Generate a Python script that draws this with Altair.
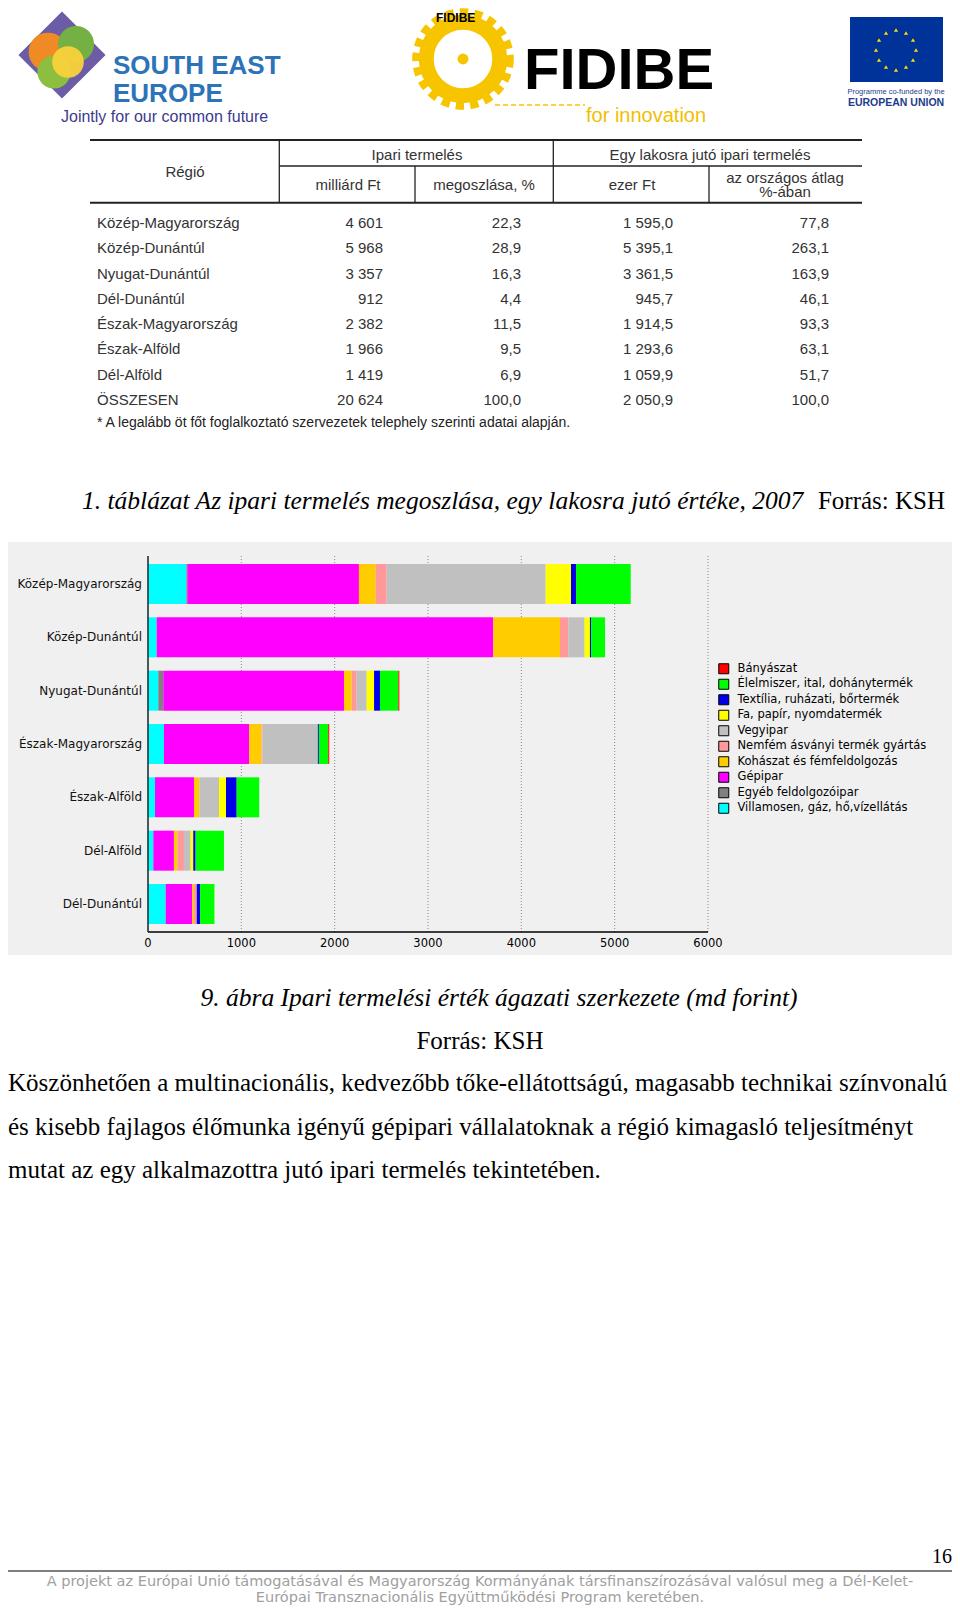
import altair as alt
import pandas as pd

# ---------------- data: table (KSH, 2007) ----------------
tbl_regions = ['Közép-Magyarország', 'Közép-Dunántúl', 'Nyugat-Dunántúl', 'Dél-Dunántúl',
               'Észak-Magyarország', 'Észak-Alföld', 'Dél-Alföld', 'ÖSSZESEN']
tbl_md_ft = [4601, 5968, 3357, 912, 2382, 1966, 1419, 20624]
tbl_share = [22.3, 28.9, 16.3, 4.4, 11.5, 9.5, 6.9, 100.0]
tbl_ezer_ft = [1595.0, 5395.1, 3361.5, 945.7, 1914.5, 1293.6, 1059.9, 2050.9]
tbl_avg_pct = [77.8, 263.1, 163.9, 46.1, 93.3, 63.1, 51.7, 100.0]

# ---------------- data: stacked bar chart (md forint) ----------------
chart_regions = ['Közép-Magyarország', 'Közép-Dunántúl', 'Nyugat-Dunántúl',
                 'Észak-Magyarország', 'Észak-Alföld', 'Dél-Alföld', 'Dél-Dunántúl']
legend_sectors = ['Bányászat', 'Élelmiszer, ital, dohánytermék', 'Textília, ruházati, bőrtermék',
                  'Fa, papír, nyomdatermék', 'Vegyipar', 'Nemfém ásványi termék gyártás',
                  'Kohászat és fémfeldolgozás', 'Gépipar', 'Egyéb feldolgozóipar',
                  'Villamosen, gáz, hő,vízellátás']
sector_colors = ['#FF0000', '#00FF00', '#0000E6', '#FFFF00', '#C0C0C0', '#FF9999',
                 '#FFCC00', '#FF00FF', '#808080', '#00FFFF']

villamosenergia = [411, 93, 110, 171, 75, 57, 189]
egyeb = [10, 0, 54, 0, 0, 0, 0]
gepipar = [1839, 3607, 1936, 914, 418, 221, 286]
kohaszat = [179, 714, 82, 132, 57, 36, 18]
nemfem = [118, 89, 54, 10, 0, 71, 29]
vegyipar = [1704, 175, 107, 593, 211, 71, 0]
fa_papir = [271, 57, 79, 0, 75, 29, 0]
textilia = [54, 12, 64, 11, 114, 25, 36]
elelmiszer = [586, 150, 196, 100, 242, 304, 154]
banyaszat = [0, 0, 11, 11, 0, 0, 0]

axis_ticks = [0, 1000, 2000, 3000, 4000, 5000, 6000]

# stack order from left to right
stack_series = [
    ('Villamosen, gáz, hő,vízellátás', villamosenergia),
    ('Egyéb feldolgozóipar', egyeb),
    ('Gépipar', gepipar),
    ('Kohászat és fémfeldolgozás', kohaszat),
    ('Nemfém ásványi termék gyártás', nemfem),
    ('Vegyipar', vegyipar),
    ('Fa, papír, nyomdatermék', fa_papir),
    ('Textília, ruházati, bőrtermék', textilia),
    ('Élelmiszer, ital, dohánytermék', elelmiszer),
    ('Bányászat', banyaszat),
]
rows = []
for k, (name, vals) in enumerate(stack_series):
    for r, v in zip(chart_regions, vals):
        rows.append({'region': r, 'sector': name, 'value': v, 'ord': k})
bar_df = pd.DataFrame(rows)


def hu_num(v, dec):
    s = f"{v:,.{dec}f}"
    return s.replace(',', ' ').replace('.', ',')


tbl_df = pd.DataFrame({
    'row': tbl_regions,
    'c1': [hu_num(v, 0) for v in tbl_md_ft],
    'c2': [hu_num(v, 1) for v in tbl_share],
    'c3': [hu_num(v, 1) for v in tbl_ezer_ft],
    'c4': [hu_num(v, 1) for v in tbl_avg_pct],
})

ONE = alt.Data(values=[{'t': ''}])
SANS = 'Liberation Sans'
SERIF = 'Liberation Serif'
PIX = 'DejaVu Sans'


def label(text, x, y, size=12, font=SANS, color='black', align='left',
          style='normal', weight='normal', baseline='middle'):
    return alt.Chart(alt.Data(values=[{'t': text}])).mark_text(
        align=align, baseline=baseline, font=font, fontSize=size, color=color,
        fontStyle=style, fontWeight=weight
    ).encode(x=alt.value(x), y=alt.value(y), text='t:N')


def hline(x1, x2, y, color='black', width=1, dash=None):
    kw = dict(color=color, strokeWidth=width)
    if dash:
        kw['strokeDash'] = dash
    return alt.Chart(ONE).mark_rule(**kw).encode(
        x=alt.value(x1), x2=alt.value(x2), y=alt.value(y))


def vline(x, y1, y2, color='black', width=1):
    return alt.Chart(ONE).mark_rule(color=color, strokeWidth=width).encode(
        x=alt.value(x), y=alt.value(y1), y2=alt.value(y2))


def box(x1, x2, y1, y2, color):
    return alt.Chart(ONE).mark_rect(color=color).encode(
        x=alt.value(x1), x2=alt.value(x2), y=alt.value(y1), y2=alt.value(y2))


def dot(x, y, shape, size, color, filled=True, sw=1, dash=None, opacity=1.0):
    kw = dict(shape=shape, size=size, color=color, filled=filled,
              strokeWidth=sw, opacity=opacity)
    if dash:
        kw['strokeDash'] = dash
    return alt.Chart(ONE).mark_point(**kw).encode(x=alt.value(x), y=alt.value(y))


layers = []

# ---------------- header logos ----------------
layers += [
    dot(54, 47, 'diamond', 7600, '#6B5CA5'),
    dot(40, 44, 'circle', 1500, '#F08A24'),
    dot(68, 36, 'circle', 1300, '#74B043'),
    dot(46, 64, 'circle', 1100, '#8CBF3F'),
    dot(60, 54, 'circle', 1000, '#F9D23A', opacity=0.95),
    label('SOUTH EAST', 105, 58, 26, SANS, '#2C73B8', weight='bold'),
    label('EUROPE', 105, 86, 26, SANS, '#2C73B8', weight='bold'),
    label('Jointly for our common future', 53, 109, 16, SANS, '#3B3A8C'),
    dot(455, 51, 'circle', 8200, '#F7C500', filled=False, sw=11, dash=[8, 6]),
    dot(455, 51, 'circle', 5400, '#F7C500', filled=False, sw=15),
    dot(455, 51, 'circle', 120, '#F7C500'),
    label('FIDIBE', 428, 10, 12, SANS, 'black', weight='bold'),
    label('FIDIBE', 516, 64, 58, SANS, 'black', weight='bold'),
    hline(487, 577, 97, '#F7C500', 1.5, [5, 3]),
    label('for innovation', 578, 108, 20, SANS, '#F2BE00'),
    box(842, 935, 9, 74, '#003399'),
]
eu_star_pos = [(888, 22), (898, 25), (905, 32), (908, 42), (905, 52), (898, 59),
               (888, 62), (878, 59), (871, 52), (868, 42), (871, 32), (878, 25)]
for sx, sy in eu_star_pos:
    layers.append(dot(sx, sy, 'triangle-up', 18, '#FFDD00'))
layers += [
    label('Programme co-funded by the', 888, 84, 7.5, SANS, '#1D3C8C', align='center'),
    label('EUROPEAN UNION', 888, 95, 10.5, SANS, '#1D3C8C', align='center', weight='bold'),
]

# ---------------- table ----------------
TC = '#333333'
layers += [
    hline(82, 854, 132, '#222', 2),
    hline(271, 854, 158, '#222', 1.3),
    hline(82, 854, 194.7, '#222', 2),
    vline(271.3, 132, 194.7, '#222', 1.3),
    vline(545.3, 132, 194.7, '#222', 1.3),
    vline(407, 158, 194.7, '#222', 1.3),
    vline(701, 158, 194.7, '#222', 1.3),
    label('Régió', 177, 164, 15, SANS, TC, align='center'),
    label('Ipari termelés', 409, 147, 15, SANS, TC, align='center'),
    label('Egy lakosra jutó ipari termelés', 702, 147, 15, SANS, TC, align='center'),
    label('milliárd Ft', 340, 177, 15, SANS, TC, align='center'),
    label('megoszlása, %', 476, 177, 15, SANS, TC, align='center'),
    label('ezer Ft', 624, 177, 15, SANS, TC, align='center'),
    label('az országos átlag', 777, 170, 15, SANS, TC, align='center'),
    label('%-ában', 777, 184, 15, SANS, TC, align='center'),
    label('* A legalább öt főt foglalkoztató szervezetek telephely szerinti adatai alapján.',
          89, 415, 14, SANS, '#222'),
]
row_scale = alt.Scale(type='point', domain=tbl_regions, range=[215, 392], padding=0)
tbl_base = alt.Chart(tbl_df)
tbl_cols = [('row', 89, 'left'), ('c1', 375, 'right'), ('c2', 513, 'right'),
            ('c3', 665, 'right'), ('c4', 821, 'right')]
tbl_layers = []
for field, xpos, al in tbl_cols:
    tbl_layers.append(
        tbl_base.mark_text(align=al, baseline='middle', font=SANS, fontSize=15, color=TC)
        .encode(y=alt.Y('row:N', scale=row_scale, axis=None),
                x=alt.value(xpos), text=f'{field}:N'))
table_group = alt.layer(*tbl_layers)

layers.append(label('1.   táblázat Az ipari termelés megoszlása, egy lakosra  jutó értéke, 2007',
                    74, 493, 25.5, SERIF, 'black', style='italic'))
layers.append(label('Forrás: KSH', 937, 493, 25, SERIF, 'black', align='right'))

# ---------------- stacked bar chart ----------------
layers.append(box(0, 948, 534, 947, '#F0F0F0'))

xscale = alt.Scale(domain=[0, 6000], range=[140, 700], nice=False, zero=False)
yscale = alt.Scale(domain=chart_regions, range=[548, 924], paddingInner=0.25, paddingOuter=0.15)
tick_df = pd.DataFrame({'t': axis_ticks})

grid = alt.Chart(tick_df[tick_df.t > 0]).mark_rule(
    color='#888888', strokeWidth=1, strokeDash=[1, 2]
).encode(x=alt.X('t:Q', scale=xscale, axis=None), y=alt.value(548), y2=alt.value(924))

bars = alt.Chart(bar_df).mark_bar().encode(
    x=alt.X('value:Q', stack='zero', scale=xscale, axis=None),
    y=alt.Y('region:N', scale=yscale, axis=None, sort=None),
    color=alt.Color('sector:N',
                    scale=alt.Scale(domain=legend_sectors, range=sector_colors),
                    legend=alt.Legend(orient='none', legendX=710, legendY=655, title=None,
                                      symbolType='square', symbolSize=100,
                                      symbolStrokeColor='black', symbolStrokeWidth=1,
                                      symbolOpacity=1, labelFont=PIX, labelFontSize=11.5,
                                      labelColor='black', rowPadding=0.5, padding=0,
                                      labelOffset=8, labelLimit=400)),
    order=alt.Order('ord:Q', sort='ascending'),
)

x_axis_line = alt.Chart(ONE).mark_rule(color='black', strokeWidth=1.5).encode(
    x=alt.X(datum=0, type='quantitative', scale=xscale, axis=None),
    x2=alt.X2(datum=6000), y=alt.value(924))
y_axis_line = alt.Chart(ONE).mark_rule(color='#0A2A2A', strokeWidth=1.5).encode(
    x=alt.X(datum=0, type='quantitative', scale=xscale, axis=None),
    y=alt.value(548), y2=alt.value(924))
tick_labels = alt.Chart(tick_df).mark_text(
    font=PIX, fontSize=11.5, color='black', baseline='middle', align='center'
).encode(x=alt.X('t:Q', scale=xscale, axis=None), y=alt.value(936), text='t:N')
region_labels = alt.Chart(pd.DataFrame({'region': chart_regions})).mark_text(
    font=PIX, fontSize=12, color='#111111', align='right', baseline='middle'
).encode(y=alt.Y('region:N', scale=yscale, axis=None, sort=None),
         x=alt.value(134), text='region:N')

bar_group = alt.layer(grid, bars, x_axis_line, y_axis_line, tick_labels, region_labels)

# ---------------- text below ----------------
layers += [
    label('9.   ábra Ipari termelési érték ágazati szerkezete (md forint)', 491, 990, 25.5,
          SERIF, 'black', align='center', style='italic'),
    label('Forrás: KSH', 472, 1033, 25, SERIF, 'black', align='center'),
    label('Köszönhetően a multinacionális, kedvezőbb tőke-ellátottságú, magasabb technikai színvonalú',
          0, 1075, 25, SERIF, 'black'),
    label('és kisebb fajlagos élőmunka igényű gépipari vállalatoknak a régió kimagasló teljesítményt',
          0, 1119, 25, SERIF, 'black'),
    label('mutat az egy alkalmazottra jutó ipari termelés tekintetében.',
          0, 1162, 25, SERIF, 'black'),
    label('16', 944, 1549, 20, SERIF, 'black', align='right'),
    hline(0, 944, 1563, 'black', 1),
    label('A projekt az Európai Unió támogatásával és Magyarország Kormányának társfinanszírozásával valósul meg a Dél-Kelet-',
          472, 1574, 14.5, PIX, '#A0A0A0', align='center'),
    label('Európai Transznacionális Együttműködési Program keretében.',
          472, 1590, 14.5, PIX, '#A0A0A0', align='center'),
]

chart = alt.layer(*layers, table_group, bar_group).resolve_scale(
    x='independent', y='independent', color='independent'
).properties(
    width=944, height=1598, padding=0,
    autosize=alt.AutoSizeParams(type='none'),
    background='white',
).configure_view(stroke=None)

chart.save('out.html', embed_options={'renderer': 'svg', 'actions': False})
